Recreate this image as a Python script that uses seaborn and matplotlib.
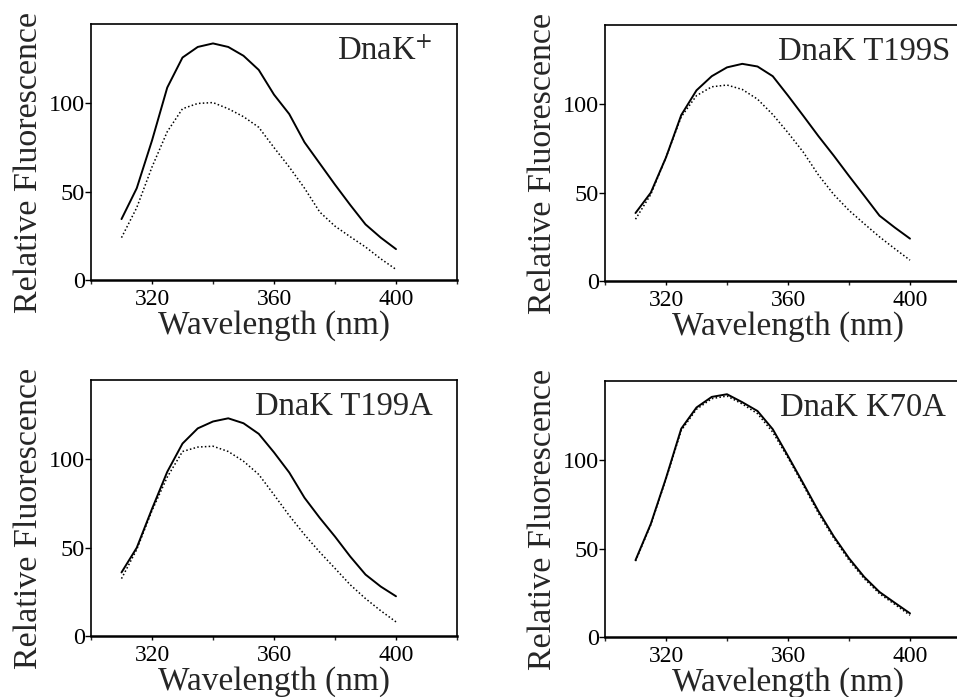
import pandas as pd
import seaborn as sns
import matplotlib.pyplot as plt
from matplotlib.ticker import MultipleLocator

# emission wavelength (nm), one reading every 5 nm
wavelength = [310, 315, 320, 325, 330, 335, 340, 345, 350, 355,
              360, 365, 370, 375, 380, 385, 390, 395, 400]

# solid = first trace, dotted = second trace
wt_solid = [34.5, 52, 79, 109, 126, 132, 134, 132, 127, 119,
            105, 94, 78, 66, 54, 42.5, 31.5, 24, 17.5]
wt_dotted = [24, 41, 64, 84, 97, 100, 100.5, 97, 92.5, 86.5,
             75, 64, 52, 38.5, 30.5, 24.5, 18.7, 12, 6]

t199s_solid = [38.5, 50, 70, 94, 108, 116, 121, 123, 121.5, 116,
               105, 93.6, 82, 71, 59.5, 48.3, 37, 30.3, 24]
t199s_dotted = [35, 49, 70, 93, 105, 110, 111, 108.5, 103, 94.3,
                84, 73, 60, 49, 40, 32.4, 25, 18.3, 11.8]

t199a_solid = [36, 50, 72, 93, 109, 117.6, 121.5, 123.3, 120.5, 114.5,
               104, 92.6, 78.3, 66.9, 56.3, 45, 34.8, 28, 22.5]
t199a_dotted = [32.5, 49, 71, 90, 104.5, 107, 107.5, 104.5, 99, 91.5,
                80, 68.2, 57.4, 47.5, 38.3, 29, 21.2, 14.3, 8]

k70a_solid = [43.5, 64, 90, 118, 130, 136, 137.5, 133, 128, 117.7,
              102.5, 87, 71.2, 57, 44.6, 34, 25.5, 19.4, 13.4]
k70a_dotted = [43, 63.5, 89.5, 117, 129, 135, 136.5, 132, 126.5, 116,
               101.5, 86, 70, 56, 43.5, 33, 24.5, 18.5, 12.3]

labels = ['DnaK$^{+}$', 'DnaK T199S', 'DnaK T199A', 'DnaK K70A']

sns.set_style('white')
plt.rcParams['font.family'] = ['Liberation Serif', 'DejaVu Serif']
plt.rcParams['mathtext.fontset'] = 'stix'

fig = plt.figure(figsize=(9.57, 6.97), dpi=100)

W = 366 / 957
H = 256 / 697
rects = [
    [91 / 957, 1 - 280 / 697, W, H],
    [605 / 957, 1 - 281 / 697, W, H],
    [91 / 957, 1 - 636 / 697, W, H],
    [605 / 957, 1 - 637 / 697, W, H],
]
label_x = [0.672, 0.473, 0.448, 0.478]
curves = [(wt_solid, wt_dotted), (t199s_solid, t199s_dotted),
          (t199a_solid, t199a_dotted), (k70a_solid, k70a_dotted)]

for rect, lab, lx, (solid, dotted) in zip(rects, labels, label_x, curves):
    ax = fig.add_axes(rect)
    df = pd.DataFrame({'wl': wavelength, 'solid': solid, 'dotted': dotted})
    sns.lineplot(data=df, x='wl', y='dotted', color='black', lw=1.1,
                 linestyle=(0, (1, 1.5)), ax=ax)
    sns.lineplot(data=df, x='wl', y='solid', color='black', lw=1.4, ax=ax)

    ax.set_xlim(300, 420)
    ax.set_ylim(0, 145)
    ax.set_xticks([320, 360, 400])
    ax.xaxis.set_minor_locator(MultipleLocator(20))
    ax.set_yticks([0, 50, 100])
    ax.tick_params(axis='x', labelsize=17, length=3, width=1, pad=3.5,
                   direction='out', bottom=True, colors='black')
    ax.tick_params(axis='x', which='minor', length=3, width=1,
                   direction='out', bottom=True)
    ax.tick_params(axis='y', labelsize=17.5, length=4, width=1, pad=0.5,
                   direction='out', left=True, colors='black')

    for side in ['left', 'right', 'top']:
        ax.spines[side].set_linewidth(1.2)
        ax.spines[side].set_color('black')
    ax.spines['bottom'].set_linewidth(1.8)
    ax.spines['bottom'].set_color('black')

    ax.set_xlabel('Wavelength (nm)', fontsize=24)
    ax.set_ylabel('Relative Fluorescence', fontsize=24.5)
    ax.xaxis.set_label_coords(0.5, -0.117)
    ax.yaxis.set_label_coords(-0.128, 0.46)

    ax.text(lx, 0.895, lab, transform=ax.transAxes, fontsize=23.5,
            ha='left', va='center')

fig.savefig('out.png', dpi=100)
